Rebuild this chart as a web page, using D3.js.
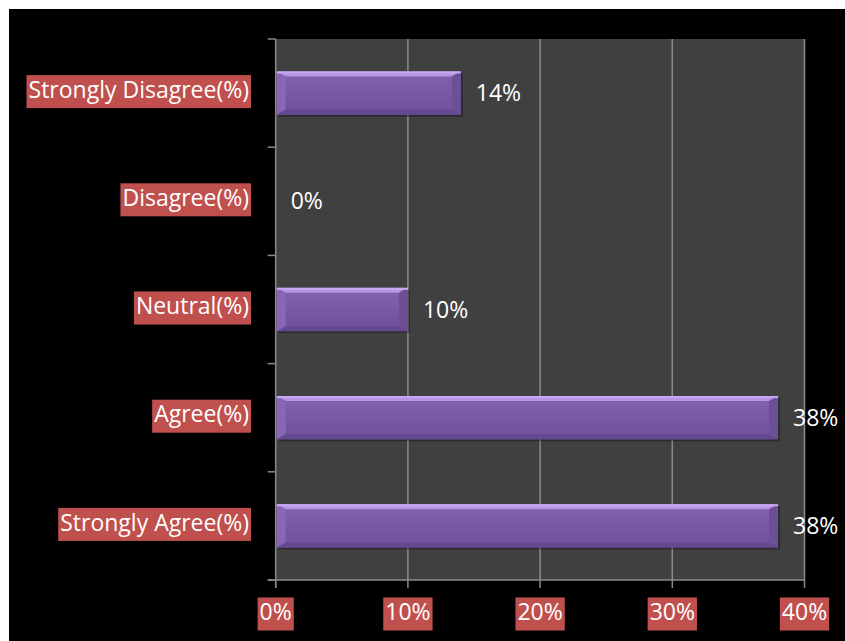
<!DOCTYPE html>
<html><head><meta charset="utf-8">
<script src="https://cdn.jsdelivr.net/npm/d3@7"></script>
<style>html,body{margin:0;padding:0;background:#fff;}svg{display:block;}</style>
</head><body>
<svg id="c" width="845" height="641"></svg>
<script>
const categories = ["Strongly Disagree(%)", "Disagree(%)", "Neutral(%)", "Agree(%)", "Strongly Agree(%)"];
const values = [14, 0, 10, 38, 38];
const valueLabels = ["14%", "0%", "10%", "38%", "38%"];
const xTicks = [0, 10, 20, 30, 40];
const xTickLabels = ["0%", "10%", "20%", "30%", "40%"];

const svg = d3.select("#c");
const font = "'Open Sans', sans-serif";
const fs = 23;
svg.append("rect").attr("x", 9).attr("y", 9).attr("width", 836).attr("height", 632).attr("fill", "#000");

const L = 275.7, R = 804.5, T = 39, B = 580;
const x = d3.scaleLinear().domain([0, 40]).range([L, R]);
const y = d3.scaleBand().domain(categories).range([T, B]).paddingInner(0.6).paddingOuter(0.3);
const yOuter = d3.scaleBand().domain(categories).range([T, B]);

const defs = svg.append("defs");
const gr = defs.append("linearGradient").attr("id", "face").attr("x1", 0).attr("y1", 0).attr("x2", 0).attr("y2", 1);
gr.append("stop").attr("offset", "0").attr("stop-color", "#8462b0");
gr.append("stop").attr("offset", "0.5").attr("stop-color", "#7a58a4");
gr.append("stop").attr("offset", "1").attr("stop-color", "#70509a");

svg.append("rect").attr("x", L).attr("y", T).attr("width", R - L).attr("height", B - T).attr("fill", "#404040");

// gridlines
svg.append("g").selectAll("line").data(xTicks.slice(1)).join("line")
  .attr("x1", d => x(d)).attr("x2", d => x(d)).attr("y1", T).attr("y2", B)
  .attr("stroke", "#8a8a8a").attr("stroke-width", 1.5);

// axes
const ax = svg.append("g").attr("stroke", "#8a8a8a").attr("stroke-width", 1.5);
ax.append("line").attr("x1", L).attr("x2", L).attr("y1", T).attr("y2", B + 8);
const yTickPos = categories.map(c => yOuter(c)).concat([B]);
ax.selectAll(".yt").data(yTickPos).join("line").attr("class", "yt")
  .attr("x1", L - 8).attr("x2", L).attr("y1", d => d).attr("y2", d => d);
ax.append("line").attr("x1", L - 8).attr("x2", R).attr("y1", B).attr("y2", B);
ax.selectAll(".xt").data(xTicks).join("line").attr("class", "xt")
  .attr("x1", d => x(d)).attr("x2", d => x(d)).attr("y1", B).attr("y2", B + 8);

// bars with soft bevel
const bars = svg.append("g");
categories.forEach((c, i) => {
  const v = values[i];
  if (v <= 0) return;
  const x0 = x(0) + 1, x1 = x(v), y0 = y(c), y1 = y(c) + y.bandwidth();
  const bx = 9, by = 5;
  const g = bars.append("g");
  g.append("rect").attr("x", x0 + 2).attr("y", y0 + 2).attr("width", x1 - x0).attr("height", y1 - y0).attr("fill", "rgba(0,0,0,0.3)");
  g.append("rect").attr("x", x0).attr("y", y0).attr("width", x1 - x0).attr("height", y1 - y0).attr("fill", "url(#face)");
  g.append("polygon").attr("points", [[x0, y0], [x1, y0], [x1 - bx, y0 + by], [x0 + bx, y0 + by]].join(" ")).attr("fill", "#b894e6");
  g.append("polygon").attr("points", [[x0, y0], [x0 + bx, y0 + by], [x0 + bx, y1 - by], [x0, y1]].join(" ")).attr("fill", "#8868b4");
  g.append("polygon").attr("points", [[x1, y0], [x1, y1], [x1 - bx, y1 - by], [x1 - bx, y0 + by]].join(" ")).attr("fill", "#6d4f96");
  g.append("polygon").attr("points", [[x0, y1], [x0 + bx, y1 - by], [x1 - bx, y1 - by], [x1, y1]].join(" ")).attr("fill", "#654990");
  g.append("rect").attr("x", x0).attr("y", y0).attr("width", x1 - x0).attr("height", 2).attr("fill", "#c9a8f2");
});

// value labels
svg.append("g").selectAll("text").data(categories).join("text")
  .attr("x", (c, i) => x(values[i]) + 15)
  .attr("y", c => yOuter(c) + yOuter.bandwidth() / 2 + 2)
  .attr("dominant-baseline", "middle")
  .attr("fill", "#fff").attr("font-family", font).attr("font-size", fs)
  .text((c, i) => valueLabels[i]);

// category labels with red background
const cl = svg.append("g");
categories.forEach((c, i) => {
  const cy = yOuter(c) + yOuter.bandwidth() / 2 - 1.5;
  const t = cl.append("text").attr("x", 249).attr("y", cy).attr("text-anchor", "end")
    .attr("dominant-baseline", "middle").attr("fill", "#fff").attr("font-family", font).attr("font-size", fs).text(c);
  const w = t.node().getComputedTextLength();
  cl.insert("rect", "text").attr("x", 249 - w - 2).attr("y", cy - 16.5).attr("width", w + 4).attr("height", 33).attr("fill", "#c0504d");
});

// x tick labels with red background
const xl = svg.append("g");
xTicks.forEach((d, i) => {
  const cx = x(d), cy = 614;
  const t = xl.append("text").attr("x", cx).attr("y", cy).attr("text-anchor", "middle")
    .attr("dominant-baseline", "middle").attr("fill", "#fff").attr("font-family", font).attr("font-size", fs).text(xTickLabels[i]);
  const w = t.node().getComputedTextLength();
  xl.insert("rect", "text").attr("x", cx - w / 2 - 2).attr("y", cy - 16.5).attr("width", w + 4).attr("height", 33).attr("fill", "#c0504d");
});
</script>
</body></html>
